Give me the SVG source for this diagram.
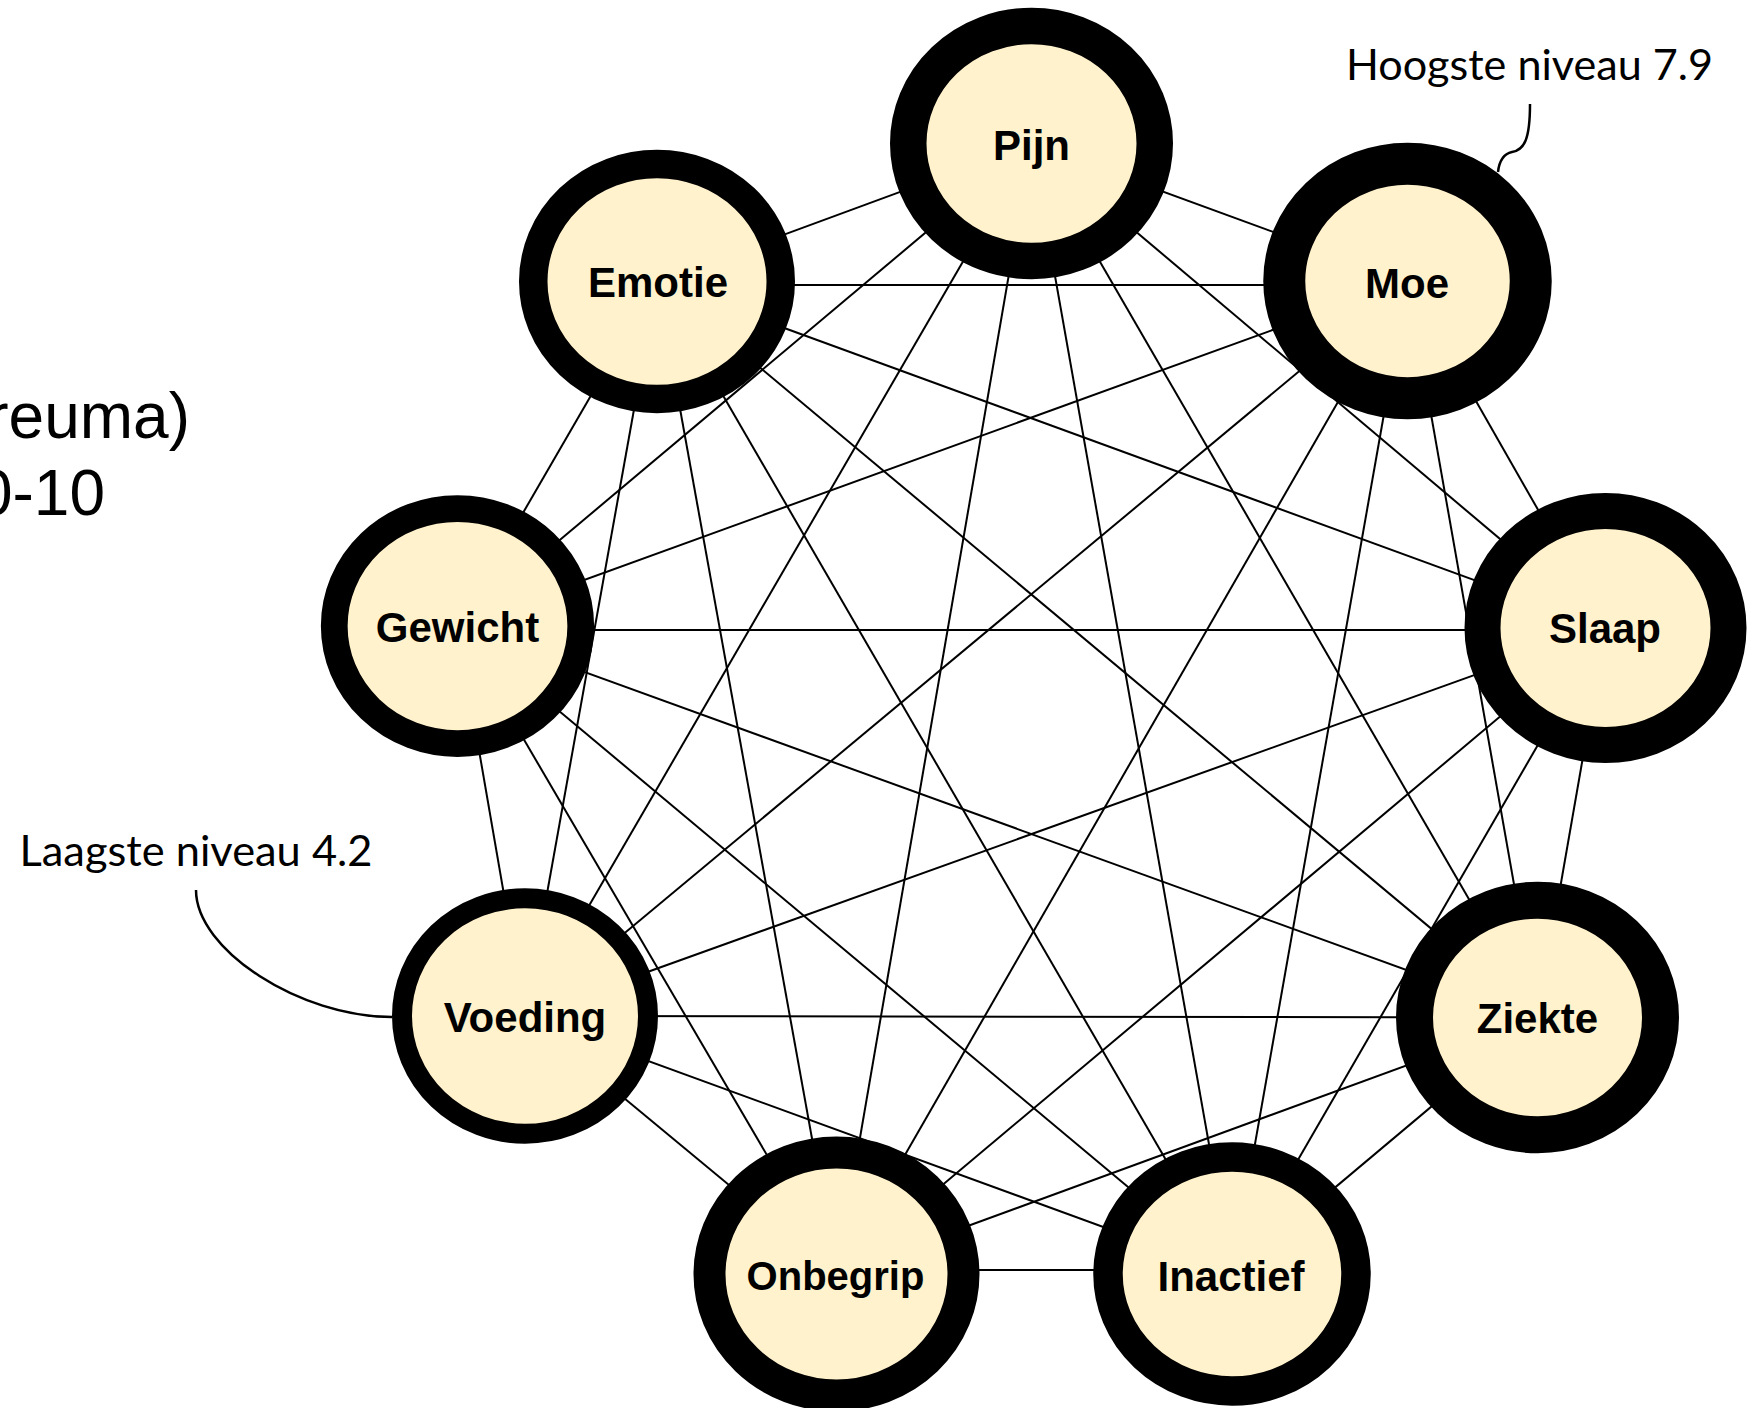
<svg xmlns="http://www.w3.org/2000/svg" width="1754" height="1408" viewBox="0 0 1754 1408">
  <style>
    .edges line { stroke: #000; stroke-width: 2; fill: none; }
    .node ellipse { fill: #FFF2CC; stroke: #000; }
    .node text { font-family: "Liberation Sans", Arial, sans-serif; font-weight: bold; font-size: 42px; text-anchor: middle; fill: #000; }
    .note { font-family: Lato, "Open Sans", sans-serif; font-size: 42px; fill: #000; }
    .leader { fill: none; stroke: #000; stroke-width: 2.5; }
    .title { font-family: "Liberation Sans", Arial, sans-serif; font-size: 64px; fill: #000; text-anchor: end; }
  </style>
  <rect width="1754" height="1408" fill="#fff"/>

  <!-- heading, partly outside the left edge -->
  <text class="title" x="190" y="438">reuma)</text>
  <text class="title" x="105" y="515">0-10</text>

  <!-- every factor is linked with every other factor -->
  <g id="connectors" class="edges">
    <line x1="1031.5" y1="143.5" x2="657" y2="281.5"/>
    <line x1="1031.5" y1="143.5" x2="1407.5" y2="281"/>
    <line x1="1031.5" y1="143.5" x2="457.5" y2="626"/>
    <line x1="1031.5" y1="143.5" x2="1605.5" y2="628"/>
    <line x1="1031.5" y1="143.5" x2="525" y2="1016"/>
    <line x1="1031.5" y1="143.5" x2="1537.5" y2="1017.5"/>
    <line x1="1031.5" y1="143.5" x2="836.5" y2="1274"/>
    <line x1="1031.5" y1="143.5" x2="1232" y2="1274"/>

    <line x1="657" y1="285" x2="1407.5" y2="285"/>
    <line x1="657" y1="281.5" x2="457.5" y2="626"/>
    <line x1="657" y1="281.5" x2="1605.5" y2="628"/>
    <line x1="657" y1="281.5" x2="525" y2="1016"/>
    <line x1="657" y1="281.5" x2="1537.5" y2="1017.5"/>
    <line x1="657" y1="281.5" x2="836.5" y2="1274"/>
    <line x1="657" y1="281.5" x2="1232" y2="1274"/>

    <line x1="1407.5" y1="281" x2="457.5" y2="626"/>
    <line x1="1407.5" y1="281" x2="1605.5" y2="628"/>
    <line x1="1407.5" y1="281" x2="525" y2="1016"/>
    <line x1="1407.5" y1="281" x2="1537.5" y2="1017.5"/>
    <line x1="1407.5" y1="281" x2="836.5" y2="1274"/>
    <line x1="1407.5" y1="281" x2="1232" y2="1274"/>

    <line x1="457.5" y1="630" x2="1605.5" y2="630"/>
    <line x1="457.5" y1="626" x2="525" y2="1016"/>
    <line x1="457.5" y1="626" x2="1537.5" y2="1017.5"/>
    <line x1="457.5" y1="626" x2="836.5" y2="1274"/>
    <line x1="457.5" y1="626" x2="1232" y2="1274"/>

    <line x1="1605.5" y1="628" x2="525" y2="1016"/>
    <line x1="1605.5" y1="628" x2="1537.5" y2="1017.5"/>
    <line x1="1605.5" y1="628" x2="836.5" y2="1274"/>
    <line x1="1605.5" y1="628" x2="1232" y2="1274"/>

    <line x1="525" y1="1016" x2="1537.5" y2="1017.5"/>
    <line x1="525" y1="1016" x2="836.5" y2="1274"/>
    <line x1="525" y1="1016" x2="1232" y2="1274"/>

    <line x1="1537.5" y1="1017.5" x2="836.5" y2="1274"/>
    <line x1="1537.5" y1="1017.5" x2="1232" y2="1274"/>

    <line x1="836.5" y1="1270" x2="1232" y2="1270"/>
  </g>

  <!-- factors: ring thickness follows the score -->
  <g id="node-pijn" class="node">
    <ellipse cx="1031.5" cy="143.5" rx="123.25" ry="117.5" stroke-width="36.5"/>
    <text x="1031.5" y="160">Pijn</text>
  </g>
  <g id="node-emotie" class="node">
    <ellipse cx="657" cy="281.5" rx="123.75" ry="117.5" stroke-width="28.5"/>
    <text x="658" y="297">Emotie</text>
  </g>
  <g id="node-moe" class="node">
    <ellipse cx="1407.5" cy="281" rx="123.25" ry="117.25" stroke-width="42"/>
    <text x="1407" y="298">Moe</text>
  </g>
  <g id="node-gewicht" class="node">
    <ellipse cx="457.5" cy="626" rx="123.25" ry="117.5" stroke-width="26.75"/>
    <text x="457.5" y="642">Gewicht</text>
  </g>
  <g id="node-slaap" class="node">
    <ellipse cx="1605.5" cy="628" rx="123" ry="117" stroke-width="36"/>
    <text x="1605" y="643">Slaap</text>
  </g>
  <g id="node-voeding" class="node">
    <ellipse cx="525" cy="1016" rx="123" ry="117.75" stroke-width="20"/>
    <text x="525" y="1032">Voeding</text>
  </g>
  <g id="node-ziekte" class="node">
    <ellipse cx="1537.5" cy="1017.5" rx="123" ry="117.25" stroke-width="37"/>
    <text x="1537.5" y="1033">Ziekte</text>
  </g>
  <g id="node-onbegrip" class="node">
    <ellipse cx="836.5" cy="1274" rx="127" ry="121.5" stroke-width="32"/>
    <text x="835.5" y="1290" style="font-size:40px">Onbegrip</text>
  </g>
  <g id="node-inactief" class="node">
    <ellipse cx="1232" cy="1274" rx="124" ry="117" stroke-width="29.5"/>
    <text x="1231" y="1291">Inactief</text>
  </g>

  <!-- callouts for the highest and lowest score -->
  <g id="note-high">
    <text class="note" x="1346" y="80" textLength="367" lengthAdjust="spacingAndGlyphs">Hoogste niveau 7.9</text>
    <path class="leader" d="M1530,104 C1530,140 1524,150 1512,152 C1503,154 1499,163 1498,172"/>
  </g>
  <g id="note-low">
    <text class="note" x="19.5" y="866" textLength="353" lengthAdjust="spacingAndGlyphs">Laagste niveau 4.2</text>
    <path class="leader" d="M196,890 C196,950 300,1017 392,1017"/>
  </g>
</svg>
